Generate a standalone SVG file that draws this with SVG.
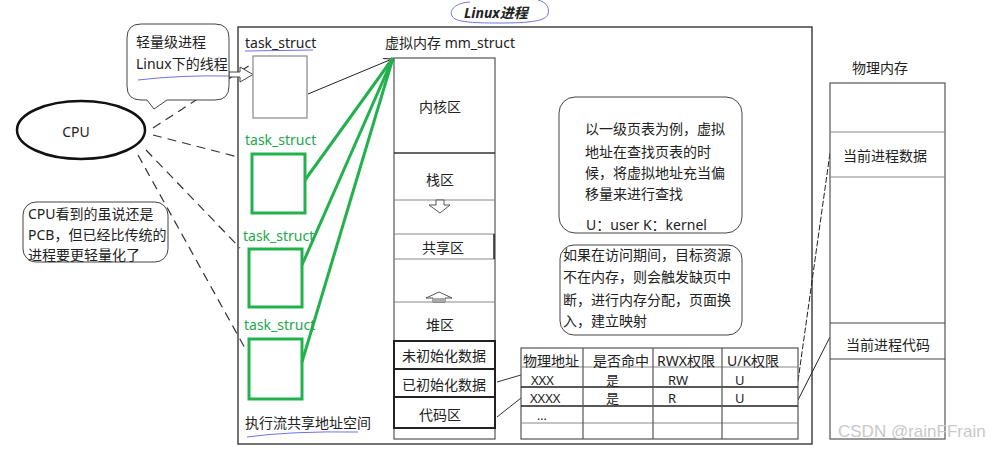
<svg xmlns="http://www.w3.org/2000/svg" width="992" height="449" viewBox="0 0 992 449">
<defs>
<style>
text{font-family:"Noto Sans","Noto Sans CJK SC",sans-serif;font-size:14px;fill:#222}
.g{fill:#22a84a}
.c{text-anchor:middle}
.t{font-size:13px}
.dash{stroke:#333;stroke-width:1.2;stroke-dasharray:9 6;fill:none}
.gl{stroke:#22b14c;stroke-width:3;fill:none}
.thin{stroke:#888;stroke-width:1;fill:none}
.bk{stroke:#222;stroke-width:2;fill:none}
.ul{stroke:#6f73e0;stroke-width:1;fill:none}
</style>
<marker id="arr" markerWidth="10" markerHeight="10" refX="9" refY="5" orient="auto" markerUnits="userSpaceOnUse">
<path d="M1 1 L9 5 L1 9" fill="none" stroke="#222" stroke-width="1"/>
</marker>
</defs>
<rect width="992" height="449" fill="#fff"/>

<g id="title">
<path d="M470 2 C455 3 449 10 452 16 C455 22 470 23 500 23 C530 23 546 21 548 14 C550 6 545 2 538 0" class="ul"/>
<text x="464" y="18" style="font-weight:bold;font-style:italic" fill="#111">Linux进程</text>
</g>

<g id="process-frame">
<rect x="238" y="27" width="574" height="417" fill="none" stroke="#444" stroke-width="1.5"/>
</g>

<g id="connectors">
<path class="dash" d="M153 128 L250 65"/>
<path class="dash" d="M153 135 L238 157"/>
<path class="dash" d="M146 150 L240 248"/>
<path class="dash" d="M138 155 L246 350"/>
<path d="M308 94 L392 59" stroke="#222" stroke-width="1" fill="none" marker-end="url(#arr)"/>
<path class="gl" d="M305 180 L393 58"/>
<path class="gl" d="M302 265 L393 58"/>
<path class="gl" d="M302 362 L393 58"/>
<path d="M497 382 L521 375" stroke="#333" stroke-width="1" fill="none"/>
<path d="M497 417 L521 398" stroke="#333" stroke-width="1" fill="none"/>
<path d="M798 381 L830 153" stroke="#222" stroke-width="1" stroke-dasharray="6 2" fill="none"/>
<path d="M798 400 L830 337" stroke="#222" stroke-width="1" fill="none"/>
<path d="M229 72 H240 V67 L253 74.5 L240 82 V77 H229 Z" fill="#fff" stroke="#444" stroke-width="1"/>
</g>

<g id="cpu">
<ellipse cx="81" cy="130" rx="64" ry="29" fill="#fff" stroke="#111" stroke-width="2.5"/>
<text x="76" y="137" class="c">CPU</text>
</g>

<g id="bubble-lwp">
<path d="M141 24 H215 Q229 24 229 38 V86 Q229 100 215 100 H167 L154 109 L147 100 H141 Q127 100 127 86 V38 Q127 24 141 24 Z" fill="#fff" stroke="#444" stroke-width="1"/>
<text x="136" y="47">轻量级进程</text>
<text x="136" y="69">Linux下的线程</text>
<path class="ul" d="M138 80 Q180 75 229 76"/>
</g>

<g id="bubble-pcb">
<rect x="23" y="202" width="145" height="60" rx="13" fill="#fff" stroke="#444" stroke-width="1"/>
<text x="28" y="219">CPU看到的虽说还是</text>
<text x="28" y="240">PCB，但已经比传统的</text>
<text x="28" y="260">进程要更轻量化了</text>
</g>

<g id="task1">
<text x="245" y="48">task_struct</text>
<path class="ul" d="M245 51 L313 50"/>
<rect x="253" y="56" width="54" height="62" fill="#fff" stroke="#888" stroke-width="1.2"/>
</g>
<g id="task2">
<text x="245" y="145" class="g">task_struct</text>
<rect x="252" y="154" width="53" height="59" fill="none" stroke="#22b14c" stroke-width="3"/>
</g>
<g id="task3">
<text x="243" y="241" class="g">task_struct</text>
<rect x="249" y="249" width="53" height="58" fill="none" stroke="#22b14c" stroke-width="3"/>
</g>
<g id="task4">
<text x="244" y="330" class="g">task_struct</text>
<rect x="249" y="339" width="53" height="60" fill="none" stroke="#22b14c" stroke-width="3"/>
</g>
<g id="shared-label">
<text x="245" y="428">执行流共享地址空间</text>
<path class="ul" d="M247 437 Q290 431 358 432"/>
</g>

<g id="vmem">
<text x="385" y="48">虚拟内存 mm_struct</text>
<rect x="394" y="58" width="101" height="381" fill="#fff" stroke="#555" stroke-width="1.2"/>
<path d="M394 153 H495" stroke="#333" stroke-width="1.6"/>
<path class="thin" d="M394 200 H495 M394 234 H495 M394 259 H495 M394 302 H495 M394 428 H495"/>
<path d="M494 234 V259" stroke="#222" stroke-width="1.5"/>
<rect x="394" y="341" width="101" height="28" class="bk"/>
<rect x="394" y="369" width="101" height="28" class="bk"/>
<rect x="394" y="397" width="101" height="31" class="bk"/>
<text x="440" y="112" class="c">内核区</text>
<text x="440" y="185" class="c">栈区</text>
<path d="M436 200 H444 V205 H450 L440 213 L429 205 H436 Z" fill="#fff" stroke="#555" stroke-width="1"/>
<text x="443" y="253" class="c">共享区</text>
<path d="M439 292 L452 298 H445 V302 H433 V298 H426 Z" fill="#fff" stroke="#555" stroke-width="1"/>
<rect x="433" y="298" width="12" height="4" fill="#aaa"/>
<text x="440" y="330" class="c">堆区</text>
<text x="444" y="361" class="c">未初始化数据</text>
<text x="444" y="390" class="c">已初始化数据</text>
<text x="440" y="420" class="c">代码区</text>
</g>

<g id="note-pagetable">
<rect x="559" y="97" width="183" height="136" rx="16" fill="#fff" stroke="#444" stroke-width="1"/>
<text x="585" y="134">以一级页表为例，虚拟</text>
<text x="585" y="157">地址在查找页表的时</text>
<text x="585" y="178">候，将虚拟地址充当偏</text>
<text x="585" y="199">移量来进行查找</text>
<text x="586" y="230">U：user  K：kernel</text>
</g>

<g id="note-pagefault">
<rect x="560" y="245" width="182" height="90" rx="14" fill="#fff" stroke="#444" stroke-width="1"/>
<text x="563" y="260">如果在访问期间，目标资源</text>
<text x="563" y="282">不在内存，则会触发缺页中</text>
<text x="563" y="305">断，进行内存分配，页面换</text>
<text x="563" y="326">入，建立映射</text>
</g>

<g id="page-table">
<rect x="521" y="348" width="277" height="91" fill="#fff" stroke="#555" stroke-width="1.2"/>
<path class="thin" d="M521 367 H798 M521 423 H798"/>
<path d="M521 387 H798 M521 406 H798" stroke="#222" stroke-width="1.6"/>
<path d="M583 348 V439 M653 348 V439 M722 348 V439" stroke="#555" stroke-width="1.2"/>
<text x="523" y="366">物理地址</text>
<text x="593" y="366">是否命中</text>
<text x="657" y="366">RWX权限</text>
<text x="727" y="366">U/K权限</text>
<text x="531" y="385" class="t">XXX</text>
<text x="606" y="385" class="t">是</text>
<text x="668" y="385" class="t">RW</text>
<text x="735" y="385" class="t">U</text>
<text x="530" y="403" class="t">XXXX</text>
<text x="606" y="403" class="t">是</text>
<text x="668" y="403" class="t">R</text>
<text x="735" y="403" class="t">U</text>
<text x="537" y="420" style="font-size:12px">...</text>
</g>

<g id="pmem">
<text x="852" y="73">物理内存</text>
<rect x="830" y="83" width="115" height="356" fill="#fff" stroke="#555" stroke-width="1.2"/>
<path class="thin" d="M830 132 H945 M830 177 H945"/>
<path d="M830 323 H945 M830 359 H945" stroke="#444" stroke-width="1.2"/>
<text x="843" y="161">当前进程数据</text>
<text x="846" y="350">当前进程代码</text>
</g>

<text x="838" y="437" style="font-family:'Liberation Sans',sans-serif;font-size:17px;fill:#c8c8c8">CSDN @rainFFrain</text>
</svg>
